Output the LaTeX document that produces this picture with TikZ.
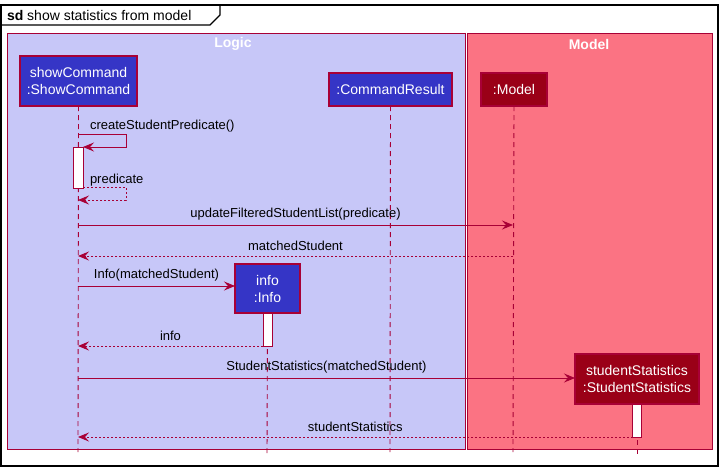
\documentclass[tikz,border=0pt]{standalone}
\usepackage{fontspec}
\setmainfont{Liberation Sans}
\usetikzlibrary{arrows.meta}
\definecolor{umlred}{HTML}{A80036}
\definecolor{logicbg}{HTML}{C7C7F8}
\definecolor{modelbg}{HTML}{FB7383}
\definecolor{bluepart}{HTML}{3535C6}
\definecolor{redpart}{HTML}{9A0017}
\tikzset{
  every node/.style={inner sep=0pt, outer sep=0pt},
  grp/.style={draw=umlred, line width=1pt},
  part/.style={draw=umlred, line width=1.3pt, text=white, font=\fontsize{14}{17}\selectfont, align=center, inner sep=0pt},
  lifeline/.style={draw=umlred, line width=0.9pt, dash pattern=on 5pt off 4pt},
  actbox/.style={draw=umlred, fill=white, line width=1pt},
  msg/.style={draw=umlred, line width=0.9pt, -{Stealth[length=11pt, width=9pt, inset=4pt]}},
  ret/.style={msg, dash pattern=on 2pt off 2pt},
  lbl/.style={font=\fontsize{13}{15}\selectfont, text=black},
}
\begin{document}
\begin{tikzpicture}[x=1pt, y=-1pt]
\useasboundingbox (0,0) rectangle (723,471);
\fill[white] (0,0) rectangle (723,471);
% frame
\draw[black, line width=1.2pt] (1,5) rectangle (718,466);
\draw[black, line width=1.2pt] (1,25) -- (210,25) -- (220,15) -- (220,5);
\node[anchor=base west, font=\fontsize{14}{17}\selectfont] (title) at (7,20) {\textbf{sd} show statistics from model};
% groups
\draw[grp, fill=logicbg] (7,33) rectangle (465.5,449);
\draw[grp, fill=modelbg] (467.5,33) rectangle (712,449);
\node[text=white, font=\bfseries\fontsize{14}{17}\selectfont] (logicT) at (233,44) {Logic};
\node[text=white, font=\bfseries\fontsize{14}{17}\selectfont] (modelT) at (589,44) {Model};
% participants
\node[part, fill=bluepart, minimum width=117pt, minimum height=50pt] (sc) at (78.5,81) {showCommand\\:ShowCommand};
\node[part, fill=bluepart, minimum width=123pt, minimum height=33pt] (cr) at (390.5,89.5) {:CommandResult};
\node[part, fill=redpart, minimum width=66pt, minimum height=33pt] (md) at (514,89.5) {:Model};
\node[part, fill=bluepart, minimum width=65pt, minimum height=49pt] (inf) at (267.5,288.5) {info\\:Info};
\node[part, fill=redpart, minimum width=124pt, minimum height=50pt] (ss) at (637,379) {studentStatistics\\:StudentStatistics};
% lifeline ends
\coordinate (scE) at (78,452);
\coordinate (crE) at (390,452);
\coordinate (mdE) at (513,452);
\coordinate (infE) at (267,455);
\coordinate (ssE) at (637,455);
\draw[lifeline] (sc.south) -- (scE);
\draw[lifeline] (cr.south) -- (crE);
\draw[lifeline] (md.south) -- (mdE);
\draw[lifeline] (inf.south) -- (infE);
\draw[lifeline] (ss.south) -- (ssE);
% activations
\node[actbox, minimum width=10pt, minimum height=41pt] (a1) at (78,167.5) {};
\node[actbox, minimum width=9pt, minimum height=33pt, anchor=north] (a2) at (inf.south) {};
\node[actbox, minimum width=9pt, minimum height=33pt, anchor=north] (a3) at (ss.south) {};
% coordinates on lifelines
\coordinate (p1) at (78,134);
\coordinate (p1r) at (126,134);
\coordinate (p1b) at (126,147);
\coordinate (p2) at (83,187);
\coordinate (p2r) at (126,187);
\coordinate (p2b) at (126,200);
\coordinate (p2e) at (78,200);
% messages
\draw[msg] (p1) -- (p1r) -- (p1b) -- (a1.north east);
\node[lbl, anchor=base west] (l1) at (90,129) {createStudentPredicate()};
\draw[ret] (p2) -- (p2r) -- (p2b) -- (p2e);
\node[lbl, anchor=base west] (l2) at (90,183) {predicate};

\coordinate (m3a) at (78,225);
\coordinate (m3b) at (513,225);
\draw[msg] (m3a) -- (m3b) node[lbl, midway, above=5pt] {updateFilteredStudentList(predicate)};
\coordinate (m4a) at (513,256);
\coordinate (m4b) at (78,256);
\draw[ret] (m4a) -- (m4b) node[lbl, midway, above=5pt] {matchedStudent};
\coordinate (m5a) at (78,286);
\draw[msg] (m5a) -- (inf.west |- m5a) node[lbl, midway, above=5pt] {Info(matchedStudent)};
\coordinate (m6b) at (78,346);
\draw[ret] (a2.south west |- m6b) -- (m6b) node[lbl, midway, above=5pt] {info};
\coordinate (m7a) at (78,378);
\draw[msg] (m7a) -- (ss.west |- m7a) node[lbl, midway, above=5pt] {StudentStatistics(matchedStudent)};
\coordinate (m8b) at (78,437);
\draw[ret] (a3.south west |- m8b) -- (m8b) node[lbl, midway, above=5pt] {studentStatistics};
\end{tikzpicture}
\end{document}
